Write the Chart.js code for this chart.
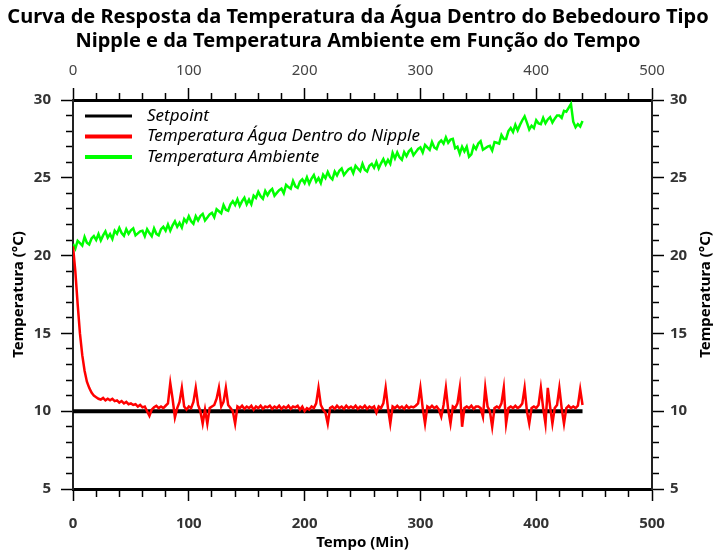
<!DOCTYPE html>
<html lang="pt">
<head>
<meta charset="UTF-8">
<title>Curva de Resposta da Temperatura</title>
<script src="https://cdn.jsdelivr.net/npm/chart.js"></script>
<style>
  html, body { margin: 0; padding: 0; background: #fff; }
  #wrap { width: 716px; height: 555px; }
</style>
</head>
<body>
<div id="wrap"><canvas id="tempChart" width="716" height="555"></canvas></div>
<script>
// time axis (minutes), one sample every 2 min
const minutes = [
  0,2,4,6,8,10,12,14,16,18,20,22,24,26,28,30,32,34,36,38,
  40,42,44,46,48,50,52,54,56,58,60,62,64,66,68,70,72,74,76,78,
  80,82,84,86,88,90,92,94,96,98,100,102,104,106,108,110,112,114,116,118,
  120,122,124,126,128,130,132,134,136,138,140,142,144,146,148,150,152,154,156,158,
  160,162,164,166,168,170,172,174,176,178,180,182,184,186,188,190,192,194,196,198,
  200,202,204,206,208,210,212,214,216,218,220,222,224,226,228,230,232,234,236,238,
  240,242,244,246,248,250,252,254,256,258,260,262,264,266,268,270,272,274,276,278,
  280,282,284,286,288,290,292,294,296,298,300,302,304,306,308,310,312,314,316,318,
  320,322,324,326,328,330,332,334,336,338,340,342,344,346,348,350,352,354,356,358,
  360,362,364,366,368,370,372,374,376,378,380,382,384,386,388,390,392,394,396,398,
  400,402,404,406,408,410,412,414,416,418,420,422,424,426,428,430,432,434,436,438,440
];

const setpointMinutes = [0, 440];
const setpointTemps = [10, 10];

// water temperature inside the nipple drinker (°C)
const waterTemps = [
  20.6, 19.0, 16.9, 15.0, 13.6, 12.6, 11.9, 11.5, 11.2, 11.0,
  10.9, 10.8, 10.75, 10.85, 10.7, 10.8, 10.7, 10.8, 10.65, 10.7,
  10.55, 10.65, 10.5, 10.6, 10.45, 10.5, 10.4, 10.45, 10.3, 10.4,
  10.25, 10.3, 10.0, 9.7, 10.1, 10.25, 10.35, 10.2, 10.3, 10.2,
  10.35, 10.5, 11.8, 10.8, 9.6, 10.2, 10.6, 11.5, 10.3, 10.1,
  10.3, 10.2, 10.6, 11.5, 10.4, 10.0, 9.2, 10.1, 9.2, 10.2,
  10.3, 10.4, 10.8, 11.5, 10.3, 10.6, 11.5, 10.4, 10.2, 10.0,
  9.2, 10.3, 10.2, 10.35, 10.15, 10.3, 10.2, 10.35, 10.1, 10.3,
  10.2, 10.35, 10.15, 10.3, 10.25, 10.35, 10.15, 10.3, 10.2, 10.35,
  10.15, 10.3, 10.2, 10.35, 10.15, 10.3, 10.25, 10.35, 10.1, 10.3,
  10.0, 10.2, 10.1, 10.3, 10.2, 10.5, 11.5, 10.4, 10.1, 9.9,
  9.2, 10.2, 10.3, 10.15, 10.35, 10.2, 10.3, 10.15, 10.35, 10.2,
  10.3, 10.2, 10.35, 10.15, 10.3, 10.2, 10.35, 10.15, 10.3, 10.2,
  10.3, 9.9, 10.3, 10.2, 10.5, 11.5, 10.2, 9.2, 10.3, 10.2,
  10.35, 10.2, 10.3, 10.15, 10.35, 10.2, 10.3, 10.25, 10.35, 10.5,
  11.5, 10.2, 9.2, 10.3, 10.2, 10.35, 10.2, 10.3, 10.1, 9.65,
  10.4, 11.5, 10.1, 9.2, 10.3, 10.2, 10.5, 11.5, 9.0, 10.2,
  10.3, 10.2, 10.35, 10.15, 10.3, 10.3, 10.2, 9.65, 11.5, 10.3,
  10.0, 9.0, 10.2, 10.3, 10.2, 10.5, 11.5, 9.2, 10.2, 10.3,
  10.2, 10.35, 10.2, 10.3, 10.5, 11.5, 10.0, 9.2, 10.2, 10.3,
  10.2, 10.4, 11.5, 10.2, 9.2, 11.5, 10.3, 9.2, 10.2, 10.4,
  11.5, 10.2, 9.2, 10.2, 10.35, 10.2, 10.3, 10.2, 10.35, 11.4, 10.4
];

// ambient temperature (°C)
const ambientTemps = [
  20.75, 20.45, 20.95, 20.8, 20.65, 21.2, 20.83, 20.71, 21.1, 21.25,
  21.0, 21.38, 20.97, 21.3, 21.55, 21.15, 21.38, 21.07, 21.6, 21.4,
  21.78, 21.45, 21.27, 21.7, 21.4, 21.63, 21.75, 21.3, 21.43, 21.56,
  21.6, 21.25, 21.7, 21.45, 21.25, 21.75, 21.4, 21.3, 21.7, 21.85,
  21.6, 22.0, 21.6, 21.95, 22.2, 21.85, 22.1, 21.8, 22.35, 22.15,
  22.53, 22.21, 22.05, 22.53, 22.26, 22.55, 22.68, 22.26, 22.45, 22.65,
  22.75, 22.47, 22.98, 22.85, 22.72, 23.25, 22.95, 22.88, 23.3, 23.5,
  23.25, 23.62, 23.2, 23.5, 23.72, 23.3, 23.6, 23.3, 23.85, 23.7,
  24.1, 23.82, 23.65, 24.15, 23.88, 24.15, 24.28, 23.85, 24.03, 24.2,
  24.3, 24.0, 24.55, 24.4, 24.3, 24.8, 24.45, 24.35, 24.75, 24.9,
  24.65, 25.03, 24.62, 24.95, 25.18, 24.75, 24.98, 24.66, 25.2, 24.98,
  25.37, 25.05, 24.9, 25.4, 25.15, 25.45, 25.6, 25.18, 25.37, 25.55,
  25.63, 25.3, 25.77, 25.6, 25.43, 25.9, 25.52, 25.4, 25.78, 25.9,
  25.65, 26.03, 25.6, 25.93, 26.2, 25.85, 26.15, 25.9, 26.6, 26.25,
  26.63, 26.31, 26.15, 26.65, 26.4, 26.7, 26.85, 26.45, 26.65, 26.85,
  26.95, 26.63, 27.11, 26.95, 26.8, 27.3, 26.95, 26.85, 27.25, 27.4,
  27.2, 27.6, 27.25, 27.45, 27.5, 26.9, 27.0, 26.55, 27.0, 26.7,
  27.0, 26.35, 26.5, 27.05, 26.85, 27.2, 27.35, 26.8, 26.9, 27.0,
  27.05, 26.75, 27.3, 27.25, 27.2, 27.75, 27.5, 27.5, 28.0, 28.2,
  27.95, 28.4, 28.05, 28.4, 28.7, 28.95, 28.55, 28.1, 28.35, 28.2,
  28.7, 28.5, 28.45, 28.85, 28.5, 28.75, 28.9, 28.55, 28.8, 29.0,
  29.0, 28.85, 29.3, 29.25, 29.5, 29.75, 28.6, 28.25, 28.45, 28.3, 28.65
];

const seriesLabels = ['Setpoint', 'Temperatura Água Dentro do Nipple', 'Temperatura Ambiente'];
const titleLines = ['Curva de Resposta da Temperatura da Água Dentro do Bebedouro Tipo',
                    'Nipple e da Temperatura Ambiente em Função do Tempo'];
const xTitle = 'Tempo (Min)';
const yTitle = 'Temperatura (°C)';

const FONT = '"Noto Sans", sans-serif';

function toPoints(xs, ys) {
  return xs.map((x, i) => ({ x: x, y: ys[i] }));
}

// legend inside the plot area (top-left) with line samples,
// plus the right axis title, which reads bottom-to-top like the left one
const extraText = {
  id: 'extraText',
  afterDraw(chart) {
    const ctx = chart.ctx;
    const area = chart.chartArea;
    const rows = [
      { label: seriesLabels[0], color: '#000000', width: 3 },
      { label: seriesLabels[1], color: '#ff0000', width: 4 },
      { label: seriesLabels[2], color: '#00ff00', width: 4 }
    ];
    ctx.save();
    ctx.font = 'italic 17px ' + FONT;
    ctx.textBaseline = 'middle';
    ctx.textAlign = 'left';
    rows.forEach((r, i) => {
      const y = area.top + 16 + i * 20.5;
      ctx.strokeStyle = r.color;
      ctx.lineWidth = r.width;
      ctx.beginPath();
      ctx.moveTo(area.left + 12, y);
      ctx.lineTo(area.left + 59, y);
      ctx.stroke();
      ctx.fillStyle = '#000';
      ctx.fillText(r.label, area.left + 74, y);
    });
    ctx.restore();

    const right = chart.scales.y2;
    ctx.save();
    ctx.translate(right.right - 10, (area.top + area.bottom) / 2);
    ctx.rotate(-Math.PI / 2);
    ctx.font = 'bold 15px ' + FONT;
    ctx.fillStyle = '#000';
    ctx.textAlign = 'center';
    ctx.textBaseline = 'middle';
    ctx.fillText(yTitle, 0, 0);
    ctx.restore();
  }
};

// minor ticks are drawn shorter with a dash pattern
function tickDash(outwardFirst) {
  return function (ctx) {
    const v = ctx.tick ? ctx.tick.value : 0;
    const major = (ctx.scale.axis === 'x') ? (v % 100 === 0) : (v % 5 === 0);
    if (major) return [];
    return outwardFirst ? [6, 100] : [0, 5, 8, 100];
  };
}

function xScale(position, bold, pad) {
  return {
    type: 'linear',
    position: position,
    min: 0,
    max: 500,
    grid: {
      drawOnChartArea: false,
      drawTicks: true,
      tickLength: 12,
      tickColor: '#000',
      tickWidth: 1.5,
      tickBorderDash: tickDash(position === 'bottom')
    },
    border: { display: true, color: '#000', width: 3 },
    ticks: {
      stepSize: 20,
      autoSkip: false,
      maxRotation: 0,
      padding: pad,
      color: bold ? '#333' : '#444',
      font: { family: FONT, size: 15, weight: bold ? 'bold' : 'normal' },
      callback: v => (v % 100 === 0 ? String(v) : '')
    }
  };
}

function yScale(position, pad) {
  return {
    type: 'linear',
    position: position,
    min: 5,
    max: 30,
    grid: {
      drawOnChartArea: false,
      drawTicks: true,
      tickLength: 12,
      tickColor: '#000',
      tickWidth: 1.5,
      tickBorderDash: tickDash(position === 'right')
    },
    border: { display: true, color: '#222', width: 2 },
    ticks: {
      stepSize: 1,
      autoSkip: false,
      padding: pad,
      color: '#333',
      font: { family: FONT, size: 15, weight: 'bold' },
      callback: v => (v % 5 === 0 ? String(v) : '')
    }
  };
}

const scales = {
  x: xScale('bottom', true, 14),
  x2: xScale('top', false, 8),
  y: yScale('left', 10),
  y2: yScale('right', 6)
};
scales.x.title = {
  display: true,
  text: xTitle,
  color: '#000',
  font: { family: FONT, size: 15, weight: 'bold' },
  padding: { top: 0, bottom: 3 }
};
scales.y.title = {
  display: true,
  text: yTitle,
  color: '#000',
  font: { family: FONT, size: 15, weight: 'bold' },
  padding: { top: 10, bottom: 0 }
};
scales.x.afterFit = s => { s.height = 66; };
scales.x2.afterFit = s => { s.height = 47; };
scales.y.afterFit = s => { s.width = 73; };
scales.y2.afterFit = s => { s.width = 64; };

new Chart(document.getElementById('tempChart'), {
  type: 'line',
  data: {
    datasets: [
      {
        label: seriesLabels[1],
        data: toPoints(minutes, waterTemps),
        borderColor: '#ff0000',
        borderWidth: 2.5,
        xAxisID: 'x', yAxisID: 'y'
      },
      {
        label: seriesLabels[2],
        data: toPoints(minutes, ambientTemps),
        borderColor: '#00ff00',
        borderWidth: 2.5,
        xAxisID: 'x', yAxisID: 'y'
      },
      {
        label: seriesLabels[0],
        data: toPoints(setpointMinutes, setpointTemps),
        borderColor: '#000000',
        borderWidth: 4,
        xAxisID: 'x', yAxisID: 'y'
      }
    ]
  },
  options: {
    responsive: false,
    animation: false,
    devicePixelRatio: 1,
    layout: { padding: 0 },
    elements: {
      point: { radius: 0 },
      line: { tension: 0, fill: false, borderJoinStyle: 'miter' }
    },
    scales: scales,
    plugins: {
      legend: { display: false },
      tooltip: { enabled: false },
      title: {
        display: true,
        text: titleLines,
        color: '#000',
        font: { family: FONT, size: 20, weight: 'bold', lineHeight: 1.2 },
        padding: { top: 5, bottom: 0 }
      }
    }
  },
  plugins: [extraText]
});
</script>
</body>
</html>
